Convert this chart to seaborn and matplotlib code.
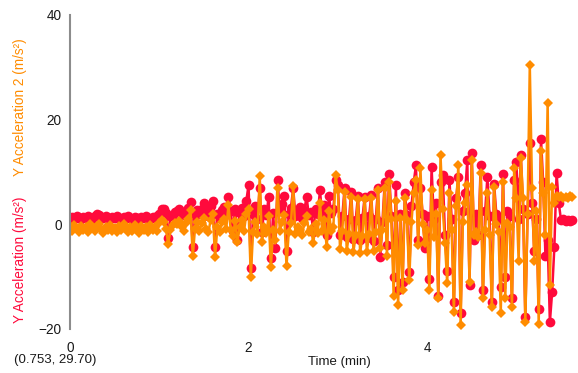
import numpy as np
import pandas as pd
import matplotlib
matplotlib.use("Agg")
import matplotlib.pyplot as plt
import seaborn as sns
from matplotlib.ticker import FixedLocator

# Two accelerometer channels sampled every 0.025 min
sample_step_min = 0.025

accel_y = [
    1.2, 1.4, 1.1, 1.5, 1.3, 1.0, 1.4, 1.2, 1.6, 1.3,
    1.1, 1.5, 1.9, 1.7, 1.4, 1.2, 1.5, 1.3, 1.1, 1.4,
    1.2, 1.5, 1.3, 1.0, 1.4, 1.2, 1.5, 1.3, 1.1, 1.4,
    1.3, 1.0, 1.4, 1.2, 1.5, 1.3, 1.1, 1.4, 1.2, 1.5,
    2.0, 2.9, 3.0, 2.2, -2.6, 1.5, 1.8, 2.4, 2.5, 3.0,
    2.2, 1.8, 2.6, 3.2, 4.2, -4.4, 1.5, 2.8, 2.0, 3.0,
    4.0, 2.4, 1.6, 3.5, 4.4, -4.4, 2.0, 1.2, 2.8, 3.4,
    2.0, 5.3, 2.5, -1.2, 3.0, -2.9, 2.2, 3.2, 1.5, 4.5,
    7.5, -8.4, 2.0, 3.5, 1.0, 6.9, -1.5, 3.0, 1.8, 5.2,
    -6.5, 2.2, -4.6, 8.4, 2.5, 3.8, 5.5, -5.0, 2.0, 3.2,
    6.9, 1.5, 2.6, 3.3, 1.2, 2.8, 5.2, 1.8, 2.3, -1.5,
    3.0, 2.0, 6.5, 1.5, 3.6, -2.0, 5.5, 2.2, 3.0, 8.4,
    7.5, -2.0, 1.5, 6.9, -2.5, 1.0, 6.2, -2.8, 0.8, 5.4,
    -3.0, 1.2, 5.2, -2.6, 1.5, 5.6, -3.2, 1.0, 6.9, -6.3,
    0.5, 8.0, -4.0, 9.7, 1.5, -10.0, 7.5, -12.5, 2.0, -11.0,
    6.0, 1.8, -9.2, 3.5, 8.0, 11.3, -3.0, 7.0, 2.0, -4.5,
    1.5, -10.5, 10.9, 1.0, 4.0, -13.6, 8.0, 9.5, -2.0, -9.0,
    8.5, 1.0, -14.9, 5.0, 9.0, -17.0, 2.5, 6.0, 12.2, -11.5,
    13.6, -3.0, 2.0, -2.0, 11.3, -12.6, 2.5, 9.0, 1.5, -14.9,
    7.8, 2.0, 1.0, -12.0, 9.7, -10.0, 2.5, 1.5, -14.1, 8.5,
    11.9, 1.0, 13.2, 3.0, -17.8, 2.0, 15.5, 4.0, -5.0, 1.0,
    -16.1, 16.4, 8.0, -6.0, -3.0, -18.7, -13.0, -4.4, 9.8, 4.0,
    0.8, 1.0, 0.7, 0.9, 0.6, 0.8,
]

accel_y2 = [
    -0.4, -1.2, -0.1, -0.9, -1.5, -0.3, -1.0, -0.6, -1.4, 0.0,
    -0.7, -1.3, -0.4, 0.1, -0.9, -1.6, -0.5, -1.1, -0.2, -1.2,
    -0.7, -1.5, -0.3, -1.0, 0.0, -0.9, -1.4, -0.5, -1.2, -0.2,
    -0.8, -1.6, -0.4, -1.0, -0.6, -1.5, -0.2, -1.1, -0.5, -1.2,
    0.2, 0.8, 0.4, -0.8, -3.8, -1.0, -0.2, 0.3, 0.0, 0.6,
    -0.5, -1.2, 0.3, 1.0, 2.7, -6.1, -0.8, 0.5, -1.3, 0.2,
    1.2, -0.9, -1.5, 0.8, 2.0, -6.3, -0.6, -1.4, 0.4, 1.1,
    -0.8, 3.6, -1.0, -2.2, 0.6, -3.4, -0.5, 0.9, -1.2, 2.0,
    3.0, -10.1, -1.5, 0.5, -1.8, 9.2, -3.4, -0.5, -1.6, 1.5,
    -8.2, -1.0, -3.0, 7.0, -1.2, 0.4, 1.8, -8.0, -1.5, 0.2,
    7.3, -1.8, -0.6, -1.0, -2.0, 0.3, 1.5, -1.4, -0.8, -3.6,
    0.0, -1.6, 4.0, -1.2, 0.8, -4.4, 2.5, -1.3, -0.5, 9.4,
    6.5, -4.8, -1.2, 6.1, -5.0, -1.8, 5.3, -5.2, -2.0, 4.9,
    -5.4, -2.2, 4.8, -5.3, -1.8, 5.0, -5.0, -1.5, 6.5, -4.6,
    -1.0, 7.0, -6.0, 8.0, 1.0, -13.6, 4.5, -15.5, 1.2, -12.5,
    5.0, 0.8, -10.7, 0.5, 6.0, 8.5, -4.0, 10.7, 0.0, -3.5,
    -1.0, -12.6, 6.5, -2.5, 2.0, -14.1, 13.2, 3.0, -3.5, -11.3,
    6.0, -1.0, -16.8, 3.5, 11.3, -19.3, 0.5, 4.0, 7.5, -11.1,
    12.2, -2.0, -1.5, -2.5, 9.9, -14.0, -1.0, 6.0, -2.0, -15.8,
    7.1, 0.0, -1.5, -17.0, 8.0, -14.0, 0.2, -0.5, -15.8, 10.7,
    5.0, -7.0, 12.6, 5.0, -18.7, 2.0, 30.4, 7.0, -7.0, 2.5,
    -19.1, 14.1, 6.0, -2.0, 23.1, -11.5, 7.1, 4.0, 5.5, 5.2,
    5.4, 5.0, 5.3, 5.1, 5.4, 5.2,
]

time_min = np.arange(len(accel_y)) * sample_step_min

x_ticks = [0, 2, 4]
y_ticks = [-20, 0, 20, 40]

df = pd.DataFrame({"time": time_min, "accel": accel_y, "accel2": accel_y2})

sns.set_theme(style="white")
plt.rcParams["font.family"] = ["Liberation Sans", "DejaVu Sans"]

red = "#ff0a3c"
orange = "#ff8c00"

fig = plt.figure(figsize=(5.78, 3.73), dpi=100)
ax = fig.add_axes([70 / 578, 44 / 373, 508 / 578, 314 / 373])

sns.lineplot(data=df, x="time", y="accel", ax=ax, color=red, marker="o",
             markersize=7, markeredgewidth=0, linewidth=1.8,
             estimator=None, sort=False)
sns.lineplot(data=df, x="time", y="accel2", ax=ax, color=orange, marker="D",
             markersize=5.4, markeredgewidth=0, linewidth=1.8,
             estimator=None, sort=False)

ax.set_xlim(0, 5.69)
ax.set_ylim(-20, 40)
ax.set_xticks(x_ticks)
ax.set_yticks(y_ticks)

for side in ["top", "right", "bottom"]:
    ax.spines[side].set_visible(False)
ax.spines["left"].set_color("#8c8c8c")
ax.spines["left"].set_linewidth(1.5)

ax.tick_params(axis="y", length=0, pad=6, labelsize=9.8, labelcolor="#1a1a1a")
ax.tick_params(axis="x", which="major", length=0, pad=9, labelsize=9.8,
               labelcolor="#1a1a1a")
ax.xaxis.set_minor_locator(FixedLocator([0]))
ax.tick_params(axis="x", which="minor", bottom=True, length=6, width=1.2,
               color="black")

ax.set_xlabel("Time (min)", fontsize=9.5, color="#1a1a1a")
ax.xaxis.set_label_coords(0.531, -0.085)
ax.set_ylabel("")

fig.text(20 / 578, 1 - 107 / 373, "Y Acceleration 2 (m/s²)", rotation=90,
         color=orange, ha="center", va="center", fontsize=9.8)
fig.text(20 / 578, 1 - 260 / 373, "Y Acceleration (m/s²)", rotation=90,
         color=red, ha="center", va="center", fontsize=9.8)
fig.text(55 / 578, 1 - 360 / 373, "(0.753, 29.70)", color="#1a1a1a",
         ha="center", va="center", fontsize=9.5)

fig.savefig("out.png", dpi=100)
